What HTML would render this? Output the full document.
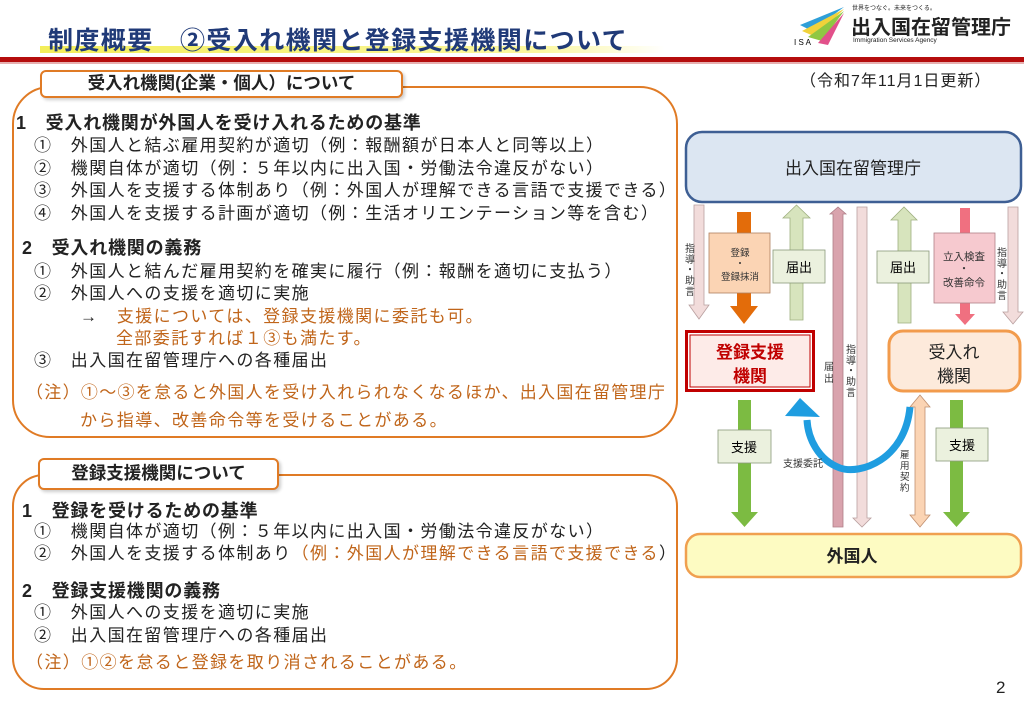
<!DOCTYPE html>
<html><head><meta charset="utf-8">
<style>
*{margin:0;padding:0;box-sizing:border-box}
body{width:1024px;height:709px;background:#fff;position:relative;overflow:hidden;font-family:"Liberation Sans","Noto Sans CJK JP",sans-serif;color:#222}
.a{position:absolute;white-space:nowrap}
.t{font-size:17px;line-height:20px;letter-spacing:1.4px}
.b{font-weight:bold;font-size:18px;line-height:20px;letter-spacing:0.8px}
.o{color:#c0651a}
.panel{position:absolute;border:2.5px solid #e07b25;border-radius:38px;background:#fff}
.tab{position:absolute;border:2.5px solid #e07b25;border-radius:6px;background:#fff;font-weight:bold;font-size:17.5px;text-align:center;box-shadow:2px 2px 3px rgba(0,0,0,.2)}
</style></head><body>
<div class="a" style="left:40px;top:46px;width:625px;height:7px;background:linear-gradient(90deg,#f3ee5a,#fbf7a0 80%,#fff)"></div>
<div class="a" style="left:48px;top:21px;font-size:25px;color:#203a78;font-weight:bold;letter-spacing:1.4px">制度概要　②受入れ機関と登録支援機関について</div>
<div class="a" style="left:0;top:57px;width:1024px;height:5px;background:#b50d0d"></div>
<div class="a" style="left:0;top:62px;width:1024px;height:2px;background:#e7b0b0"></div>
<svg class="a" style="left:792px;top:3px" width="60" height="44"><polygon points="8,22 52,4 20,28" fill="#2f9fd8"/><polygon points="10,28 52,6 24,34" fill="#f0d23a"/><polygon points="16,34 52,8 30,38" fill="#8fc742"/><polygon points="26,40 52,10 36,42" fill="#e2508a"/><text x="2" y="42" font-size="8" font-family="Liberation Sans">I S A</text></svg>
<div class="a" style="left:852px;top:3px;font-size:6px">世界をつなぐ。未来をつくる。</div>
<div class="a" style="left:851px;top:11px;font-size:20px;font-weight:bold;color:#222">出入国在留管理庁</div>
<div class="a" style="left:853px;top:37px;font-size:6.5px">Immigration Services Agency</div>
<div class="a" style="left:800px;top:67px;font-size:16px;letter-spacing:1px">（令和7年11月1日更新）</div>

<div class="panel" style="left:12px;top:86px;width:666px;height:352px"></div>
<div class="tab" style="left:40px;top:70px;width:363px;height:28px;line-height:23px">受入れ機関(企業・個人）について</div>
<div class="a b" style="left:16px;top:113px">1　受入れ機関が外国人を受け入れるための基準</div>
<div class="a t" style="left:34px;top:136px">①　外国人と結ぶ雇用契約が適切（例：報酬額が日本人と同等以上）</div>
<div class="a t" style="left:34px;top:159px">②　機関自体が適切（例：５年以内に出入国・労働法令違反がない）</div>
<div class="a t" style="left:34px;top:181px">③　外国人を支援する体制あり（例：外国人が理解できる言語で支援できる）</div>
<div class="a t" style="left:34px;top:204px">④　外国人を支援する計画が適切（例：生活オリエンテーション等を含む）</div>
<div class="a b" style="left:22px;top:238px">2　受入れ機関の義務</div>
<div class="a t" style="left:34px;top:262px">①　外国人と結んだ雇用契約を確実に履行（例：報酬を適切に支払う）</div>
<div class="a t" style="left:34px;top:284px">②　外国人への支援を適切に実施</div>
<div class="a t" style="left:80px;top:307px">→　<span class="o">支援については、登録支援機関に委託も可。</span></div>
<div class="a t o" style="left:116px;top:329px">全部委託すれば１③も満たす。</div>
<div class="a t" style="left:34px;top:351px">③　出入国在留管理庁への各種届出</div>
<div class="a t o" style="left:26px;top:383px;letter-spacing:1.3px">（注）①～③を怠ると外国人を受け入れられなくなるほか、出入国在留管理庁</div>
<div class="a t o" style="left:80px;top:411px">から指導、改善命令等を受けることがある。</div>

<div class="panel" style="left:12px;top:474px;width:666px;height:216px;border-radius:32px"></div>
<div class="tab" style="left:38px;top:458px;width:241px;height:32px;line-height:27px">登録支援機関について</div>
<div class="a b" style="left:22px;top:501px">1　登録を受けるための基準</div>
<div class="a t" style="left:34px;top:522px">①　機関自体が適切（例：５年以内に出入国・労働法令違反がない）</div>
<div class="a t" style="left:34px;top:544px">②　外国人を支援する体制あり<span class="o">（例：外国人が理解できる言語で支援できる</span>）</div>
<div class="a b" style="left:22px;top:581px">2　登録支援機関の義務</div>
<div class="a t" style="left:34px;top:603px">①　外国人への支援を適切に実施</div>
<div class="a t" style="left:34px;top:626px">②　出入国在留管理庁への各種届出</div>
<div class="a t o" style="left:26px;top:653px">（注）①②を怠ると登録を取り消されることがある。</div>
<div class="a" style="left:996px;top:678px;font-size:17px">2</div>

<svg class="a" style="left:0;top:0" width="1024" height="709" font-family="Liberation Sans,Noto Sans CJK JP,sans-serif">
<rect x="686" y="132" width="335" height="70" rx="16" fill="#dce6f2" stroke="#3e5f94" stroke-width="2.5"/>
<text x="853" y="174" font-size="17" text-anchor="middle" fill="#222">出入国在留管理庁</text>
<polygon points="694,205 704,205 704,305 709,305 699,319 689,305 694,305" fill="#f2dcdb" stroke="#b9a0a0" stroke-width="0.8"/>
<text font-size="10" fill="#333"><tspan x="685" y="252">指</tspan><tspan x="685" y="263">導</tspan><tspan x="685" y="273">・</tspan><tspan x="685" y="284">助</tspan><tspan x="685" y="295">言</tspan></text>
<polygon points="737,212 751,212 751,306 758,306 744,324 730,306 737,306" fill="#e36c0a"/>
<rect x="709" y="233" width="61" height="60" fill="#fbd4b4" stroke="#b08060" stroke-width="0.8"/>
<text font-size="9.5" text-anchor="middle" fill="#333"><tspan x="740" y="256">登録</tspan><tspan x="740" y="267">・</tspan><tspan x="740" y="280">登録抹消</tspan></text>
<polygon points="790,320 803,320 803,218 810,218 796.5,205 783,218 790,218" fill="#d7e4bd" stroke="#9fb080" stroke-width="0.8"/>
<rect x="773" y="250" width="52" height="33" fill="#ebf1de" stroke="#8a9a7a" stroke-width="0.8"/>
<text x="799" y="272" font-size="13" text-anchor="middle">届出</text>
<polygon points="833,527 843,527 843,214 846,214 838,207 830,214 833,214" fill="#d9a3ad" stroke="#b07f88" stroke-width="0.8"/>
<text font-size="10" fill="#333"><tspan x="824" y="370">届</tspan><tspan x="824" y="382">出</tspan></text>
<polygon points="857,207 867,207 867,518 871,518 862,527 853,518 857,518" fill="#f2dcdb" stroke="#b9a0a0" stroke-width="0.8"/>
<text font-size="10" fill="#333"><tspan x="846" y="353">指</tspan><tspan x="846" y="364">導</tspan><tspan x="846" y="374">・</tspan><tspan x="846" y="385">助</tspan><tspan x="846" y="396">言</tspan></text>
<polygon points="898,323 911,323 911,220 917,220 904,207 891,220 898,220" fill="#d7e4bd" stroke="#9fb080" stroke-width="0.8"/>
<rect x="877" y="251" width="52" height="32" fill="#ebf1de" stroke="#8a9a7a" stroke-width="0.8"/>
<text x="903" y="272" font-size="13" text-anchor="middle">届出</text>
<polygon points="960,208 970,208 970,314 975,314 965,325 955,314 960,314" fill="#f07080"/>
<rect x="934" y="233" width="61" height="70" fill="#f6c9cf" stroke="#b08088" stroke-width="0.8"/>
<text font-size="10.5" text-anchor="middle" fill="#333"><tspan x="964" y="260">立入検査</tspan><tspan x="964" y="272">・</tspan><tspan x="964" y="286">改善命令</tspan></text>
<polygon points="1008,207 1018,207 1018,312 1023,312 1013,324 1003,312 1008,312" fill="#f2dcdb" stroke="#b9a0a0" stroke-width="0.8"/>
<text font-size="10" fill="#333"><tspan x="997" y="256">指</tspan><tspan x="997" y="267">導</tspan><tspan x="997" y="277">・</tspan><tspan x="997" y="288">助</tspan><tspan x="997" y="299">言</tspan></text>
<rect x="685" y="330" width="130" height="62" fill="#c00000"/>
<rect x="688" y="333" width="124" height="56" fill="#fff"/>
<rect x="690" y="335" width="120" height="52" fill="#fdebe8" stroke="#c00000" stroke-width="1"/>
<text font-size="17" font-weight="bold" text-anchor="middle" fill="#c00000"><tspan x="750" y="358">登録支援</tspan><tspan x="750" y="382">機関</tspan></text>
<rect x="889" y="331" width="131" height="60" rx="14" fill="#fdeadb" stroke="#f29b4c" stroke-width="3"/>
<text font-size="17" text-anchor="middle" fill="#222"><tspan x="954" y="358">受入れ</tspan><tspan x="954" y="382">機関</tspan></text>
<polygon points="738,400 751,400 751,512 758,512 744.5,527 731,512 738,512" fill="#7cbb42"/>
<rect x="718" y="430" width="53" height="33" fill="#ebf1de" stroke="#8a9a7a" stroke-width="0.8"/>
<text x="744" y="452" font-size="13" text-anchor="middle">支援</text>
<polygon points="950,400 963,400 963,512 970,512 956.5,527 943,512 950,512" fill="#7cbb42"/>
<rect x="936" y="428" width="52" height="33" fill="#ebf1de" stroke="#8a9a7a" stroke-width="0.8"/>
<text x="962" y="450" font-size="13" text-anchor="middle">支援</text>
<polygon points="920,395 930,407 925,407 925,515 930,515 920,527 910,515 915,515 915,407 910,407" fill="#fbd4b4" stroke="#c09070" stroke-width="0.8"/>
<text font-size="9.5" fill="#333"><tspan x="900" y="458">雇</tspan><tspan x="900" y="469">用</tspan><tspan x="900" y="480">契</tspan><tspan x="900" y="491">約</tspan></text>
<path d="M910,407 C905,460 860,475 840,468 C818,460 808,438 807,420" fill="none" stroke="#1f9de0" stroke-width="7"/>
<polygon points="785,416 800,398 820,417" fill="#1f9de0"/>
<text x="783" y="467" font-size="10" fill="#333">支援委託</text>
<rect x="686" y="534" width="335" height="43" rx="14" fill="#fdfbc2" stroke="#f0a050" stroke-width="2.5"/>
<text x="852" y="562" font-size="17" font-weight="bold" text-anchor="middle" fill="#222">外国人</text>
</svg>
</body></html>
